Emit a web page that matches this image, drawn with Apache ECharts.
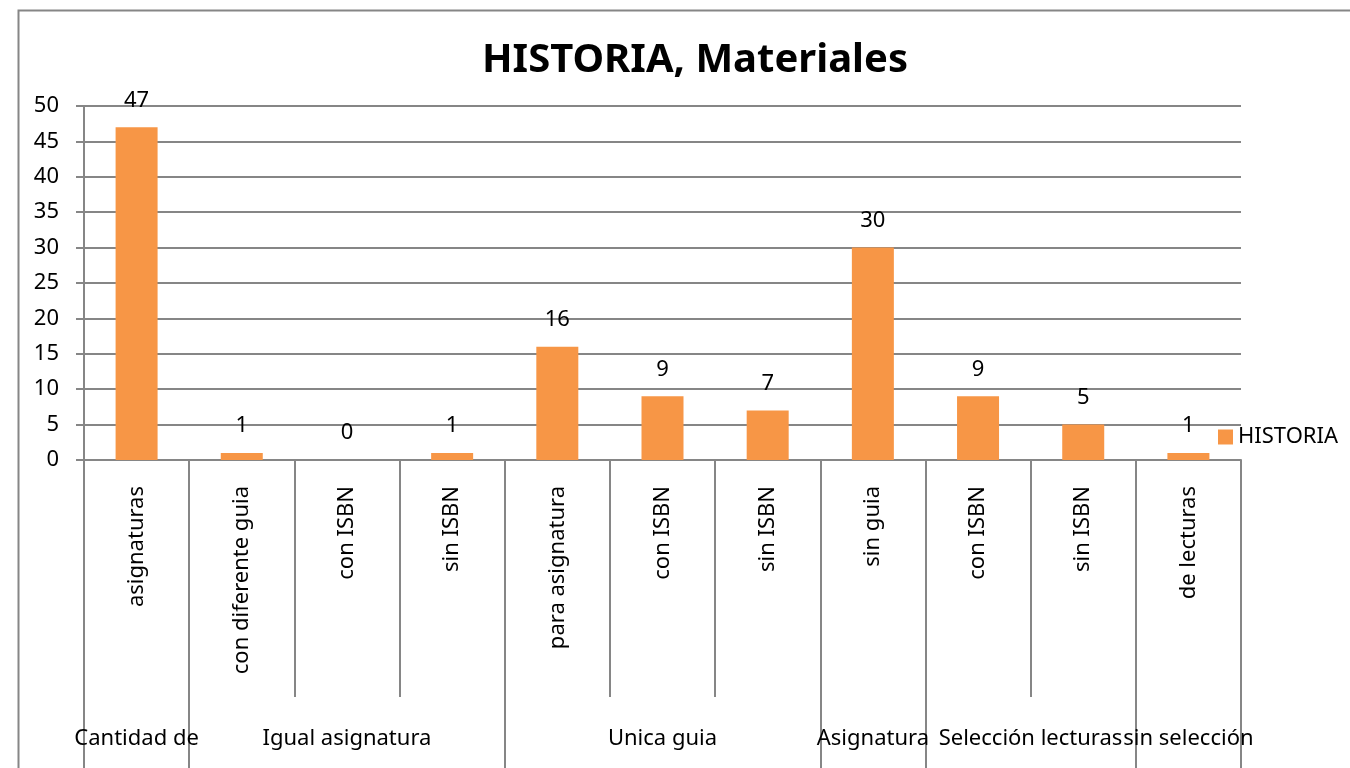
<!DOCTYPE html>
<html>
<head>
<meta charset="utf-8">
<script src="https://cdn.jsdelivr.net/npm/echarts@6/dist/echarts.min.js"></script>
<style>
  html, body { margin: 0; padding: 0; background: #fff; }
  #chart { width: 1350px; height: 768px; }
</style>
</head>
<body>
<div id="chart"></div>
<script>
// datos
var categories = ['asignaturas', 'con diferente guia', 'con ISBN', 'sin ISBN', 'para asignatura',
    'con ISBN', 'sin ISBN', 'sin guia', 'con ISBN', 'sin ISBN', 'de lecturas'];
var values = [47, 1, 0, 1, 16, 9, 7, 30, 9, 5, 1];
var groups = ['Cantidad de', 'Igual asignatura', 'Unica guia', 'Asignatura', 'Selección lecturas', 'sin selección'];
var groupSpans = [1, 3, 3, 1, 2, 1];
var yTicks = [0, 5, 10, 15, 20, 25, 30, 35, 40, 45, 50];

var FONT = 'Noto Sans';
var FS = 22;
var GRAY = '#868686';

// indices donde empieza cada grupo, y etiqueta del grupo en su categoria central
var groupStart = {};
var groupLabel = {};
var start = 0;
groups.forEach(function (g, i) {
    groupStart[start] = true;
    var mid = start + Math.floor((groupSpans[i] - 1) / 2);
    groupLabel[mid] = { text: g, even: groupSpans[i] % 2 === 0 };
    start += groupSpans[i];
});

var chart = echarts.init(document.getElementById('chart'));
chart.setOption({
    animation: false,
    textStyle: { fontFamily: FONT },
    title: {
        text: 'HISTORIA, Materiales',
        left: 477,
        top: 36,
        textStyle: { fontFamily: FONT, fontSize: 40, fontWeight: 'bold', color: '#000' }
    },
    legend: {
        data: ['HISTORIA'],
        left: 1213,
        top: 421,
        icon: 'rect',
        itemWidth: 15,
        itemHeight: 15,
        itemGap: 6,
        textStyle: { fontFamily: FONT, fontSize: FS, color: '#000' }
    },
    grid: { left: 84, right: 109, top: 106, bottom: 308, containLabel: false },
    xAxis: [{
        type: 'category',
        data: categories,
        axisLine: { lineStyle: { color: GRAY, width: 2 } },
        axisTick: { show: true, length: 237, lineStyle: { color: GRAY, width: 2 } },
        axisLabel: {
            interval: 0,
            rotate: 90,
            margin: 26,
            fontSize: FS,
            color: '#000',
            fontFamily: FONT
        }
    }, {
        type: 'category',
        position: 'bottom',
        data: categories.map(function (c, i) { return groupLabel[i] ? groupLabel[i].text : ''; }),
        axisLine: { show: false },
        axisTick: {
            show: true,
            length: 320,
            interval: function (index) { return !!groupStart[index]; },
            lineStyle: { color: GRAY, width: 2 }
        },
        axisLabel: {
            interval: 0,
            margin: 268,
            fontSize: FS,
            color: '#000',
            fontFamily: FONT,
            formatter: function (val, index) {
                var g = groupLabel[index];
                if (!g) return '';
                return g.even ? '{s|' + val + '}' : val;
            },
            rich: {
                s: { fontSize: FS, fontFamily: FONT, color: '#000', padding: [0, 0, 0, 105] }
            }
        }
    }],
    yAxis: {
        type: 'value',
        min: 0,
        max: 50,
        interval: 5,
        axisLine: { show: true, lineStyle: { color: GRAY, width: 2 } },
        axisTick: { show: true, inside: false, length: 8, lineStyle: { color: GRAY, width: 2 } },
        axisLabel: {
            margin: 25,
            fontSize: FS,
            color: '#000',
            fontFamily: FONT,
            formatter: function (v) { return yTicks.indexOf(v) >= 0 ? String(v) : ''; }
        },
        splitLine: { show: true, lineStyle: { color: GRAY, width: 2 } }
    },
    series: [{
        name: 'HISTORIA',
        type: 'bar',
        xAxisIndex: 0,
        data: values,
        barWidth: 42,
        itemStyle: { color: '#F79646' },
        label: {
            show: true,
            position: 'top',
            distance: 16,
            fontSize: FS,
            color: '#000',
            fontFamily: FONT
        }
    }],
    graphic: [{
        type: 'rect',
        left: 16,
        top: 8,
        shape: { width: 1400, height: 800 },
        style: { fill: null, stroke: GRAY, lineWidth: 2 },
        silent: true
    }]
});
</script>
</body>
</html>
